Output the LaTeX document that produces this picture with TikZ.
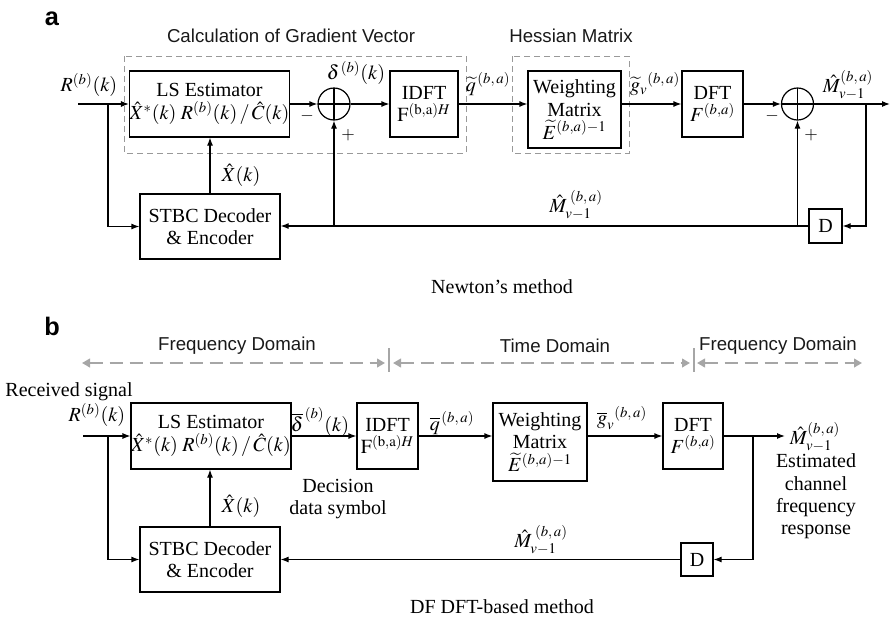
\documentclass[tikz,border=0pt]{standalone}
\usepackage{mathptmx}
\usepackage[no-math]{fontspec}
\setmainfont{Liberation Serif}
\setsansfont{Liberation Sans}
\usetikzlibrary{arrows.meta}
\tikzset{
  blk/.style={draw, line width=0.9pt, align=center, inner sep=0pt, font=\fontsize{15}{17}\selectfont},
  sumnode/.style={draw, circle, line width=0.9pt, minimum size=24pt, inner sep=0pt,
    path picture={\draw[line width=0.9pt] (path picture bounding box.west) -- (path picture bounding box.east)
      (path picture bounding box.north) -- (path picture bounding box.south);}},
  sig/.style={line width=0.9pt, -{Latex[length=6pt,width=4.5pt]}},
  wire/.style={line width=0.9pt},
  lbl/.style={font=\fontsize{15}{17}\selectfont, inner sep=0pt, align=center},
  sgn/.style={font=\fontsize{13}{15}\selectfont, inner sep=0pt},
  grp/.style={draw=black!40, dash pattern=on 4.5pt off 3pt, line width=0.75pt},
  dom/.style={draw=black!35, line width=2.2pt, dash pattern=on 9.75pt off 5.25pt,
    {Triangle[length=6pt,width=6.5pt]}-{Triangle[length=6pt,width=6.5pt]}},
  bar/.style={draw=black!35, line width=2.2pt},
  sans/.style={font=\sffamily\fontsize{14}{16}\selectfont, inner sep=0pt, text=black!90},
  panel/.style={font=\sffamily\bfseries\fontsize{19}{21}\selectfont, inner sep=0pt},
}
\begin{document}
\begin{tikzpicture}[x=0.75pt,y=-0.75pt]
\useasboundingbox (0,0) rectangle (891,618);

% ---------------- panel a ----------------
\node[panel] (pa) at (52,18.5) {a};
\node[sans] (tgrad) at (291,36) {Calculation of Gradient Vector};
\node[sans] (thess) at (571,36) {Hessian Matrix};
\draw[grp] (124,56) rectangle (466,153);
\draw[grp] (512,56) rectangle (629,153);

\node[blk, minimum width=114.75pt, minimum height=49.5pt] (LSa) at (209.5,104)
  {LS Estimator\\$\hat{X}^{*}(k)\;R^{(b)}(k)\,/\,\hat{C}(k)$};
\node[blk, minimum width=105pt, minimum height=48.75pt] (STa) at (210,226.5)
  {STBC Decoder\\\& Encoder};
\node[sumnode] (S1) at (334,104) {};
\node[blk, minimum width=51pt, minimum height=49.5pt] (IDa) at (424,104)
  {IDFT\\$\mathrm{F}^{\mathrm{(b,a)}H}$};
\node[blk, minimum width=69.75pt, minimum height=57.75pt] (Wa) at (574.5,109.5)
  {Weighting\\Matrix\\$\widetilde{E}^{(b,a)-1}$};
\node[blk, minimum width=45.75pt, minimum height=49.5pt] (DFa) at (712.5,104)
  {DFT\\$F^{(b,a)}$};
\node[sumnode] (S2) at (797.5,104) {};
\node[blk, minimum width=24.75pt, minimum height=25.5pt] (Da) at (825.5,226) {D};

\coordinate (inA) at (78,104);
\coordinate (brA) at (108,104);
\coordinate (outA) at (890,104);
\coordinate (brA2) at (866,104);

\draw[sig] (inA) -- (LSa.west);
\draw[sig] (brA) |- (STa.west);
\draw[sig] (STa.north) -- (STa.north |- LSa.south);
\draw[sig] (LSa.east) -- (S1.west);
\draw[sig] (S1.east) -- (IDa.west);
\draw[sig] (IDa.east) -- (IDa.east -| Wa.west);
\draw[sig] (Wa.east |- DFa.west) -- (DFa.west);
\draw[sig] (DFa.east) -- (S2.west);
\draw[sig] (S2.east) -- (outA);
\draw[sig] (brA2) |- (Da.east);
\draw[sig] (Da.west) -- (Da.west -| STa.east);
\draw[sig] (S2 |- Da.west) -- (S2.south);
\draw[sig] (S1 |- Da.west) -- (S1.south);

\node[lbl] (lRa) at (89,85) {$R^{(b)}(k)$};
\node[lbl] (lXa) at (241,175) {$\hat{X}(k)$};
\node[lbl] (ldel) at (356,73) {$\delta^{\,(b)}(k)$};
\node[sgn] (m1) at (307,116) {$-$};
\node[sgn] (p1) at (348,135) {$+$};
\node[lbl] (lq) at (488,84) {$\widetilde{q}^{\,(b,\,a)}$};
\node[lbl] (lg) at (655,84) {$\widetilde{g}_{v}{}^{(b,\,a)}$};
\node[sgn] (m2) at (772,116) {$-$};
\node[sgn] (p2) at (811,135) {$+$};
\node[lbl] (lMa) at (848,85) {$\hat{M}^{(b,\,a)}_{v-1}$};
\node[lbl] (lMfa) at (576,205) {$\hat{M}_{v-1}^{\;(b,\,a)}$};
\node[lbl] (tnewt) at (502,287) {Newton's method};

% ---------------- panel b ----------------
\node[panel] (pb) at (52,326) {b};
\node[sans] (tf1) at (237,346) {Frequency Domain};
\node[sans] (tt) at (555,346) {Time Domain};
\node[sans] (tf2) at (778,346) {Frequency Domain};
\draw[dom] (82,363) -- (385,363);
\draw[dom] (393,363) -- (690,363);
\draw[dom] (697,363) -- (862,363);
\draw[bar] (389,348) -- (389,372);
\draw[bar] (694,348) -- (694,372);

\node[blk, minimum width=112.5pt, minimum height=49.5pt] (LSb) at (211,436)
  {LS Estimator\\$\hat{X}^{*}(k)\;R^{(b)}(k)\,/\,\hat{C}(k)$};
\node[blk, minimum width=105pt, minimum height=48.75pt] (STb) at (210,559.5)
  {STBC Decoder\\\& Encoder};
\node[blk, minimum width=45.75pt, minimum height=49.5pt] (IDb) at (387.5,436)
  {IDFT\\$\mathrm{F}^{\mathrm{(b,a)}H}$};
\node[blk, minimum width=70.5pt, minimum height=58.5pt] (Wb) at (540,442)
  {Weighting\\Matrix\\$\widetilde{E}^{(b,a)-1}$};
\node[blk, minimum width=45pt, minimum height=49.5pt] (DFb) at (693,436)
  {DFT\\$F^{(b,a)}$};
\node[blk, minimum width=24pt, minimum height=24.75pt] (Db) at (697,559.5) {D};

\coordinate (inB) at (83,436);
\coordinate (brB) at (108,436);
\coordinate (outB) at (785,436);
\coordinate (brB2) at (753,436);

\draw[sig] (inB) -- (LSb.west);
\draw[sig] (brB) |- (STb.west);
\draw[sig] (STb.north) -- (STb.north |- LSb.south);
\draw[sig] (LSb.east) -- (IDb.west);
\draw[sig] (IDb.east) -- (IDb.east -| Wb.west);
\draw[sig] (Wb.east |- DFb.west) -- (DFb.west);
\draw[sig] (DFb.east) -- (outB);
\draw[sig] (brB2) |- (Db.east);
\draw[sig] (Db.west) -- (Db.west -| STb.east);

\node[lbl] (trec) at (69,392) {Received signal};
\node[lbl] (lRb) at (97,415) {$R^{(b)}(k)$};
\node[lbl] (lXb) at (241,506) {$\hat{X}(k)$};
\node[lbl] (ldec) at (338,499) {Decision\\data symbol};
\node[lbl] (ldb) at (320,422) {$\overline{\delta}^{\,(b)}(k)$};
\node[lbl] (lqb) at (452,423) {$\overline{q}^{\,(b,\,a)}$};
\node[lbl] (lgb) at (622,418) {$\overline{g}_{v}{}^{(b,\,a)}$};
\node[lbl] (lMb) at (815,437) {$\hat{M}^{(b,\,a)}_{v-1}$};
\node[lbl, font=\fontsize{15}{16.7}\selectfont] (test) at (816,496.5) {Estimated\\channel\\frequency\\response};
\node[lbl] (lMfb) at (541,540) {$\hat{M}_{v-1}^{\;(b,\,a)}$};
\node[lbl] (tdf) at (502,607) {DF DFT-based method};
\end{tikzpicture}
\end{document}
